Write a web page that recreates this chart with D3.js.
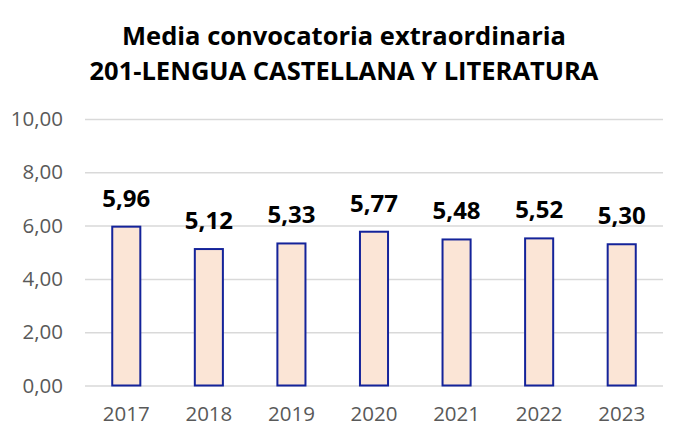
<!DOCTYPE html>
<html>
<head>
<meta charset="utf-8">
<script src="https://cdnjs.cloudflare.com/ajax/libs/d3/7.8.4/d3.min.js"></script>
<style>
  html, body { margin: 0; padding: 0; background: #fff; }
  svg { display: block; font-family: "Open Sans", sans-serif; }
</style>
</head>
<body>
<div id="chart"></div>
<script>
// data
const years = ["2017", "2018", "2019", "2020", "2021", "2022", "2023"];
const medias = [5.96, 5.12, 5.33, 5.77, 5.48, 5.52, 5.30];
const yTicks = [0, 2, 4, 6, 8, 10];
const titleLines = ["Media convocatoria extraordinaria", "201-LENGUA CASTELLANA Y LITERATURA"];

const W = 692, H = 437;
const margin = {top: 119, right: 29, bottom: 51.5, left: 85};
const width = W - margin.left - margin.right,
      height = H - margin.top - margin.bottom;

const fmt = v => d3.format(".2f")(v).replace(".", ",");

const svg = d3.select("#chart").append("svg")
  .attr("width", W)
  .attr("height", H);

// title
svg.append("g").selectAll("text")
  .data(titleLines)
  .join("text")
  .attr("x", 344)
  .attr("y", (d, i) => 45 + i * 35)
  .attr("text-anchor", "middle")
  .style("font-size", "25.5px")
  .style("font-weight", "bold")
  .style("fill", "#000")
  .text(d => d);

const g = svg.append("g")
  .attr("transform", `translate(${margin.left},${margin.top})`);

// bars sit centred in equal-width categories
const x = d3.scaleBand()
  .domain(years)
  .range([0, width])
  .paddingInner(0.66)
  .paddingOuter(0.33);

const y = d3.scaleLinear()
  .domain([0, 10])
  .range([height, 0]);

// gridlines + y labels
const yAxis = g.append("g")
  .call(d3.axisLeft(y).tickValues(yTicks).tickSize(-width).tickFormat(fmt).tickPadding(22));
yAxis.select(".domain").remove();
yAxis.selectAll(".tick line").attr("stroke", "#d9d9d9").attr("stroke-width", 1.5);
yAxis.selectAll(".tick text")
  .style("font-size", "20.5px")
  .style("fill", "#595959")
  .style("font-family", "Open Sans, sans-serif");

// x labels
const xAxis = g.append("g")
  .attr("transform", `translate(0,${height})`)
  .call(d3.axisBottom(x).tickSize(0).tickPadding(21));
xAxis.select(".domain").remove();
xAxis.selectAll(".tick text")
  .style("font-size", "20.5px")
  .style("fill", "#595959")
  .style("font-family", "Open Sans, sans-serif");

// bars
g.selectAll("rect.bar")
  .data(medias)
  .join("rect")
  .attr("class", "bar")
  .attr("x", (d, i) => x(years[i]))
  .attr("y", d => y(d))
  .attr("width", x.bandwidth())
  .attr("height", d => height - y(d))
  .attr("fill", "#fbe5d6")
  .attr("stroke", "#14239a")
  .attr("stroke-width", 2);

// value labels
g.selectAll("text.val")
  .data(medias)
  .join("text")
  .attr("class", "val")
  .attr("x", (d, i) => x(years[i]) + x.bandwidth() / 2)
  .attr("y", d => y(d) - 20)
  .attr("text-anchor", "middle")
  .style("font-size", "24px")
  .style("font-weight", "bold")
  .style("fill", "#000")
  .text(fmt);
</script>
</body>
</html>
